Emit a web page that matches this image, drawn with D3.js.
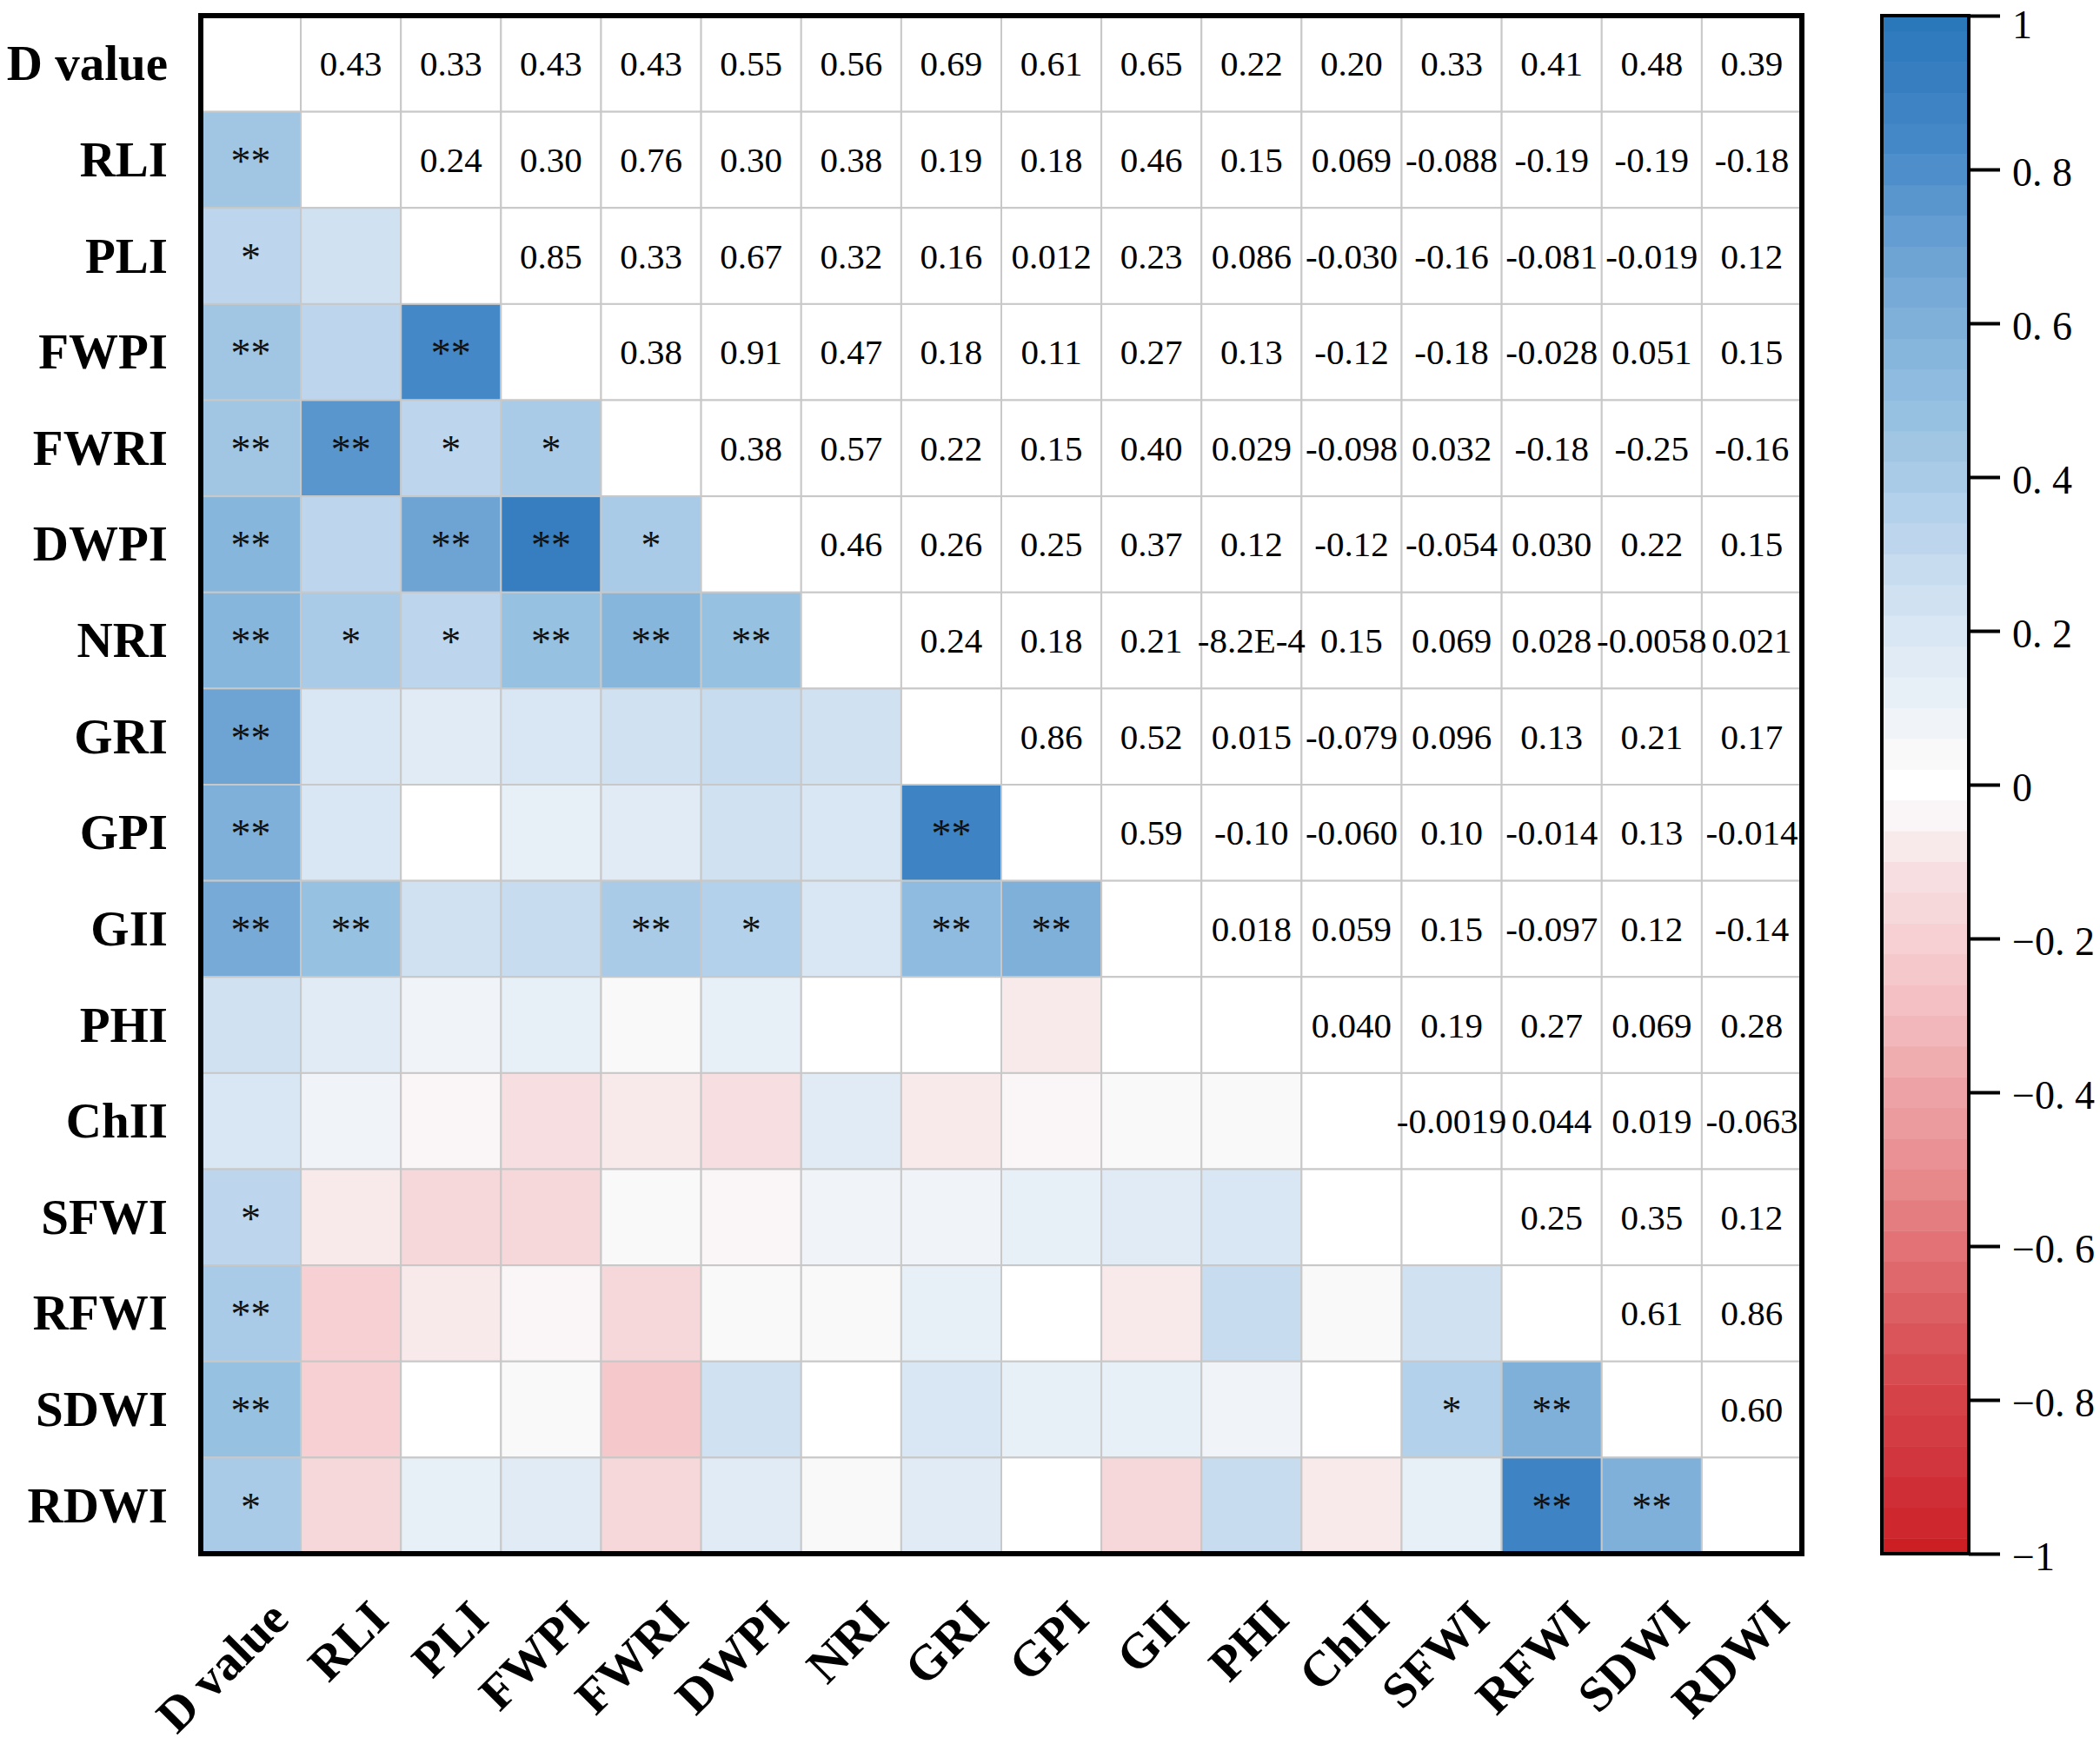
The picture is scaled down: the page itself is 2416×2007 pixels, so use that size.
<!DOCTYPE html>
<html>
<head>
<meta charset="utf-8">
<script src="https://cdn.jsdelivr.net/npm/d3@7"></script>
<style>
  body { margin: 0; background: #fff; }
  text { font-family: "Liberation Serif", "Times New Roman", serif; }
</style>
</head>
<body>
<div id="chart"></div>
<script>
////////////////////////////////////////////////////////////////////////////////////////
// Data
var categories = ["D value", "RLI", "PLI", "FWPI", "FWRI", "DWPI", "NRI", "GRI", "GPI",
                  "GII", "PHI", "ChII", "SFWI", "RFWI", "SDWI", "RDWI"];

// upper triangle, row i holds the values for columns i+1 .. 15
var corrRows = [
    [0.43, 0.33, 0.43, 0.43, 0.55, 0.56, 0.69, 0.61, 0.65, 0.22, 0.20, 0.33, 0.41, 0.48, 0.39],
    [0.24, 0.30, 0.76, 0.30, 0.38, 0.19, 0.18, 0.46, 0.15, 0.069, -0.088, -0.19, -0.19, -0.18],
    [0.85, 0.33, 0.67, 0.32, 0.16, 0.012, 0.23, 0.086, -0.030, -0.16, -0.081, -0.019, 0.12],
    [0.38, 0.91, 0.47, 0.18, 0.11, 0.27, 0.13, -0.12, -0.18, -0.028, 0.051, 0.15],
    [0.38, 0.57, 0.22, 0.15, 0.40, 0.029, -0.098, 0.032, -0.18, -0.25, -0.16],
    [0.46, 0.26, 0.25, 0.37, 0.12, -0.12, -0.054, 0.030, 0.22, 0.15],
    [0.24, 0.18, 0.21, -0.00082, 0.15, 0.069, 0.028, -0.0058, 0.021],
    [0.86, 0.52, 0.015, -0.079, 0.096, 0.13, 0.21, 0.17],
    [0.59, -0.10, -0.060, 0.10, -0.014, 0.13, -0.014],
    [0.018, 0.059, 0.15, -0.097, 0.12, -0.14],
    [0.040, 0.19, 0.27, 0.069, 0.28],
    [-0.0019, 0.044, 0.019, -0.063],
    [0.25, 0.35, 0.12],
    [0.61, 0.86],
    [0.60],
    []
];

// significance marks in the lower triangle, row i holds columns 0 .. i-1
var sigRows = [
    [],
    ["**"],
    ["*"],
    ["**", "", "**"],
    ["**", "**", "*", "*"],
    ["**", "", "**", "**", "*"],
    ["**", "*", "*", "**", "**", "**"],
    ["**"],
    ["**", "", "", "", "", "", "", "**"],
    ["**", "**", "", "", "**", "*", "", "**", "**"],
    [],
    [],
    ["*"],
    ["**"],
    ["**", "", "", "", "", "", "", "", "", "", "", "", "*", "**"],
    ["*", "", "", "", "", "", "", "", "", "", "", "", "", "**", "**"]
];

// colour bar
var colorTicks = [1, 0.8, 0.6, 0.4, 0.2, 0, -0.2, -0.4, -0.6, -0.8, -1];
var colorTickLabels = ["1", "0. 8", "0. 6", "0. 4", "0. 2", "0", "\u22120. 2", "\u22120. 4", "\u22120. 6", "\u22120. 8", "\u22121"];
var colorStops = [-1, -0.9, -0.8, -0.7, -0.6, -0.5, -0.4, -0.3, -0.2, -0.1, -0.05, 0,
                  0.05, 0.1, 0.2, 0.3, 0.4, 0.5, 0.6, 0.7, 0.8, 0.9, 1];
var stopColors = ["#cc1f24", "#d0323a", "#d54247", "#db5a5f", "#e27276", "#e88d90", "#eda3a6",
                  "#f3bcc0", "#f6d0d3", "#f7e3e5", "#f9f3f4", "#ffffff",
                  "#f8f8f9", "#ebf1f8", "#d9e7f4", "#c2d9ee", "#a9cbe7", "#92bee0", "#7fb0da",
                  "#6aa1d2", "#4d8ecb", "#3a80c2", "#2a77ba"];

////////////////////////////////////////////////////////////////////////////////////////
// Canvas
var svgWidth = 2416;
var svgHeight = 2007;

var margin = { top: 18, left: 231 };
var gridSize = { width: 1842, height: 1770 };

var svg = d3.select("#chart").append("svg")
    .attr("width", svgWidth)
    .attr("height", svgHeight);

svg.append("rect").attr("width", svgWidth).attr("height", svgHeight).attr("fill", "#fff");

// Scales
var x = d3.scaleBand().domain(categories).range([margin.left, margin.left + gridSize.width]);
var y = d3.scaleBand().domain(categories).range([margin.top, margin.top + gridSize.height]);

var colorRaw = d3.scaleLinear().domain(colorStops).range(stopColors).interpolate(d3.interpolateRgb);
var step = 0.04;
function color(v) { return colorRaw(Math.max(-1, Math.min(1, Math.round(v / step) * step))); }

function corr(i, j) {
    if (i === j) return null;
    var a = Math.min(i, j), b = Math.max(i, j);
    return corrRows[a][b - a - 1];
}

function fmt(v) {
    if (Math.abs(v) < 0.001) return v.toExponential(1).toUpperCase();
    return v.toPrecision(2);
}

// Build the cell list
var cells = [];
categories.forEach(function (rowName, i) {
    categories.forEach(function (colName, j) {
        cells.push({
            row: rowName, col: colName, i: i, j: j,
            value: corr(i, j),
            sig: (j < i && sigRows[i][j]) ? sigRows[i][j] : ""
        });
    });
});

////////////////////////////////////////////////////////////////////////////////////////
// Cells
var grid = svg.append("g");

grid.selectAll("rect.cell")
    .data(cells)
    .enter().append("rect")
    .attr("class", "cell")
    .attr("x", d => x(d.col))
    .attr("y", d => y(d.row))
    .attr("width", x.bandwidth())
    .attr("height", y.bandwidth())
    .attr("fill", d => (d.j < d.i) ? color(d.value) : "#fff")
    .attr("stroke", "#c8c8c8")
    .attr("stroke-width", 2);

// values in the upper triangle
grid.selectAll("text.val")
    .data(cells.filter(d => d.j > d.i))
    .enter().append("text")
    .attr("class", "val")
    .attr("x", d => x(d.col) + x.bandwidth() / 2)
    .attr("y", d => y(d.row) + y.bandwidth() / 2 + 14)
    .attr("text-anchor", "middle")
    .style("font-size", "41px")
    .attr("fill", "#000")
    .text(d => fmt(d.value));

// stars in the lower triangle
grid.selectAll("text.sig")
    .data(cells.filter(d => d.sig !== ""))
    .enter().append("text")
    .attr("class", "sig")
    .attr("x", d => x(d.col) + x.bandwidth() / 2)
    .attr("y", d => y(d.row) + y.bandwidth() / 2 + 17)
    .attr("text-anchor", "middle")
    .style("font-size", "46px")
    .attr("fill", "#111")
    .text(d => d.sig);

// frame
svg.append("rect")
    .attr("x", margin.left)
    .attr("y", margin.top)
    .attr("width", gridSize.width)
    .attr("height", gridSize.height)
    .attr("fill", "none")
    .attr("stroke", "#000")
    .attr("stroke-width", 6);

////////////////////////////////////////////////////////////////////////////////////////
// Labels
svg.append("g").selectAll("text")
    .data(categories)
    .enter().append("text")
    .attr("x", margin.left - 38)
    .attr("y", d => y(d) + y.bandwidth() / 2 + 19)
    .attr("text-anchor", "end")
    .style("font-size", "57px")
    .style("font-weight", "bold")
    .text(d => d);

svg.append("g").selectAll("text")
    .data(categories)
    .enter().append("text")
    .attr("transform", d => "translate(" + (x(d) + x.bandwidth() / 2 + 46) + "," + 1866 + ") rotate(-45)")
    .attr("text-anchor", "end")
    .style("font-size", "57px")
    .style("font-weight", "bold")
    .text(d => d);

////////////////////////////////////////////////////////////////////////////////////////
// Colour bar
var bar = { x: 2165, width: 100 };
var cScale = d3.scaleLinear().domain([-1, 1]).range([margin.top + gridSize.height, margin.top]);

var bands = d3.range(-1, 1.0001, step).map(v => Math.round(v / step) * step);
svg.append("g").selectAll("rect")
    .data(bands)
    .enter().append("rect")
    .attr("x", bar.x)
    .attr("y", d => cScale(Math.min(1, d + step / 2)))
    .attr("width", bar.width)
    .attr("height", d => cScale(Math.max(-1, d - step / 2)) - cScale(Math.min(1, d + step / 2)) + 0.5)
    .attr("fill", d => color(d));

svg.append("rect")
    .attr("x", bar.x)
    .attr("y", cScale(1))
    .attr("width", bar.width)
    .attr("height", cScale(-1) - cScale(1))
    .attr("fill", "none")
    .attr("stroke", "#000")
    .attr("stroke-width", 4);

var cAxisCall = d3.axisRight(cScale)
    .tickValues(colorTicks)
    .tickSize(36)
    .tickPadding(14)
    .tickFormat((d, k) => colorTickLabels[k]);

var cAxis = svg.append("g")
    .attr("transform", "translate(" + (bar.x + bar.width) + ",0)")
    .call(cAxisCall);

cAxis.select(".domain").remove();
cAxis.selectAll(".tick line").attr("stroke", "#000").attr("stroke-width", 4);
cAxis.selectAll(".tick text")
    .attr("fill", "#000")
    .attr("dy", d => d === 1 ? "0.55em" : "0.4em")
    .style("font-family", "'Liberation Serif', serif")
    .style("font-size", "46px");
</script>
</body>
</html>
